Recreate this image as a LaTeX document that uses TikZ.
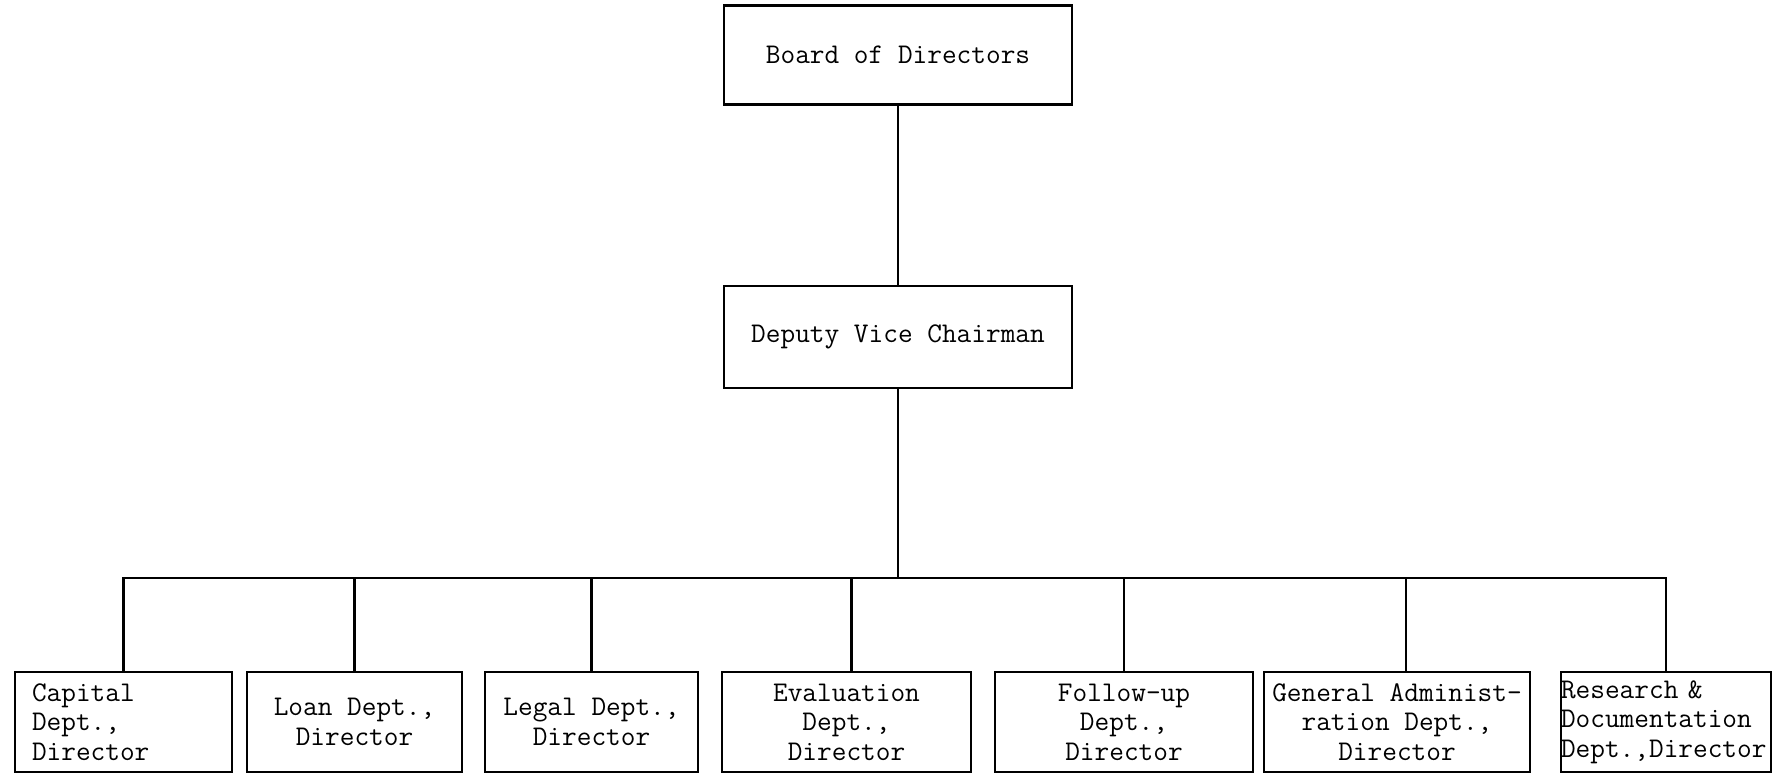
\documentclass[tikz,border=0pt]{standalone}
\usepackage{fontspec}
\begin{document}
\begin{tikzpicture}[x=1pt,y=-1pt,
  box/.style={draw, line width=2.4pt, inner sep=0pt, font=\ttfamily\fontsize{28.5}{29.5}\selectfont, align=center},
  conn/.style={line width=2.2pt}]
\useasboundingbox (0,0) rectangle (1777,774);
\node[box, minimum width=348pt, minimum height=99pt] (board) at (898,55) {Board of Directors};
\node[box, minimum width=348pt, minimum height=102pt] (dvc) at (898,337) {Deputy Vice Chairman};
\coordinate (bus) at (0,578);
\node[box, minimum height=100pt, text width=183pt, inner xsep=17pt, align=left] (b1) at (123.5,722) {Capital\\Dept.,\\Director};
\node[box, minimum height=100pt, minimum width=215pt] (b2) at (354.5,722) {Loan Dept.,\\Director};
\node[box, minimum height=100pt, minimum width=213pt] (b3) at (591.5,722) {Legal Dept.,\\Director};
\node[box, minimum height=100pt, minimum width=249pt] (b4) at (846.5,722) {Evaluation\\Dept.,\\Director};
\node[box, minimum height=100pt, minimum width=258pt] (b5) at (1124,722) {Follow-up\\Dept.,\\Director};
\node[box, minimum height=100pt, minimum width=266pt] (b6) at (1397,722) {General Administ-\\ration Dept.,\\Director};
\node[box, minimum height=100pt, text width=210pt, inner xsep=0pt, align=left] (b7) at (1666,722) {Research \&\\Documentation\\Dept.,Director};
\draw[conn] (board.south) -- (dvc.north);
\draw[conn] (dvc.south) -- (dvc.south |- bus);
\draw[conn] (b1.north) -- (b1.north |- bus) -- (b7.north |- bus) -- (b7.north);
\draw[conn] (b2.north) -- (b2.north |- bus);
\draw[conn] (b3.north) -- (b3.north |- bus);
\draw[conn] ([xshift=5pt]b4.north) -- ([xshift=5pt]b4.north |- bus);
\draw[conn] (b5.north) -- (b5.north |- bus);
\draw[conn] ([xshift=9pt]b6.north) -- ([xshift=9pt]b6.north |- bus);
\end{tikzpicture}
\end{document}
